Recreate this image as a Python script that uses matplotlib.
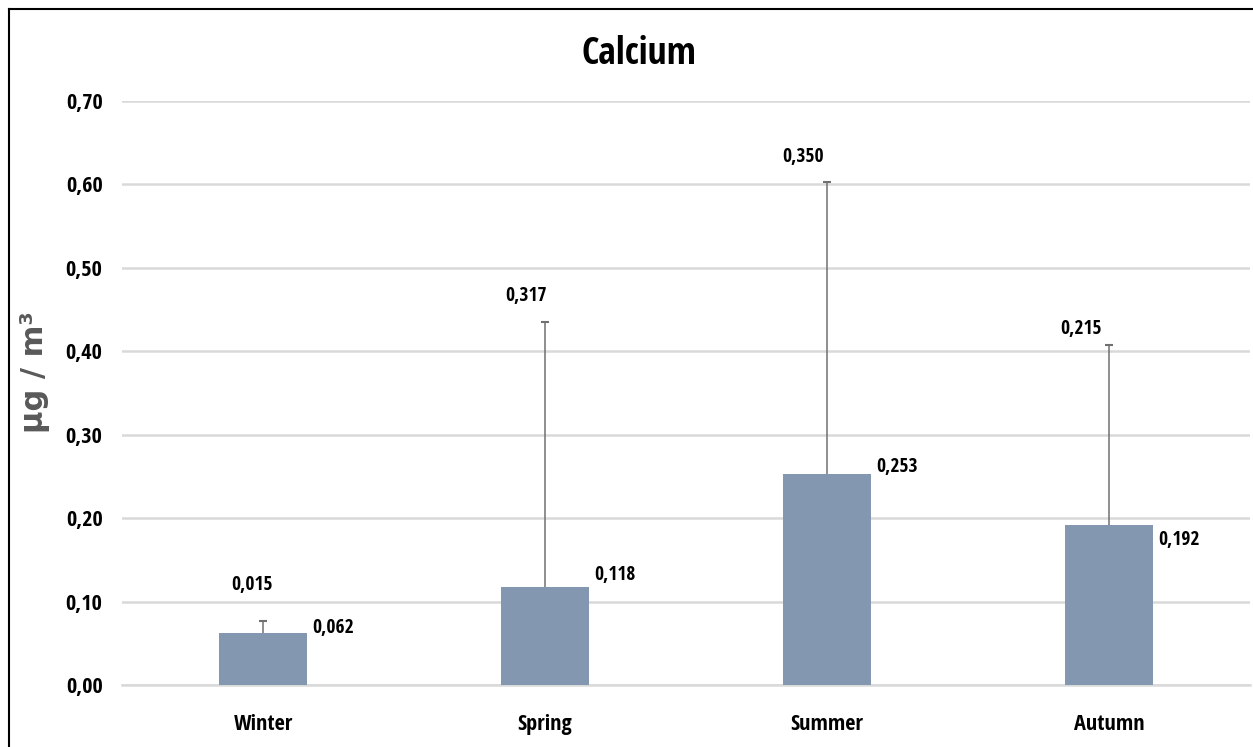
import matplotlib
matplotlib.use("Agg")
import matplotlib.pyplot as plt
from matplotlib.lines import Line2D
from matplotlib import font_manager

seasons = ["Winter", "Spring", "Summer", "Autumn"]
mean_values = [0.062, 0.118, 0.253, 0.192]
std_values = [0.015, 0.317, 0.350, 0.215]
y_ticks = [0.0, 0.1, 0.2, 0.3, 0.4, 0.5, 0.6, 0.7]

installed = {f.name for f in font_manager.fontManager.ttflist}
preferred = [n for n in ["Open Sans Condensed", "PT Sans Narrow", "Carlito"] if n in installed]
plt.rcParams["font.family"] = preferred[:1] + ["DejaVu Sans"]
plt.rcParams["font.weight"] = "bold"

def fmt(v, digits):
    return f"{v:.{digits}f}".replace(".", ",")

W, H = 1253, 747
fig = plt.figure(figsize=(W / 100, H / 100), dpi=100)
ax = fig.add_axes([122 / W, 1 - 685 / H, (1250 - 122) / W, (685 - 101) / H])

x = list(range(len(seasons)))
ax.bar(x, mean_values, width=0.31, color="#8497b0", zorder=3)
tops = [m + s for m, s in zip(mean_values, std_values)]
ax.errorbar(x, mean_values, yerr=[[0] * len(x), std_values], fmt="none",
            ecolor="#707070", elinewidth=1.1, capsize=0, zorder=2)
ax.plot(x, tops, linestyle="none", marker="_", markersize=6, markeredgewidth=1.5,
        color="#707070", zorder=2)

ax.set_xlim(-0.5, 3.5)
ax.set_ylim(0, 0.7)
ax.set_yticks(y_ticks)
ax.set_yticklabels([fmt(t, 2) for t in y_ticks], fontsize=16, fontweight="bold")
ax.set_xticks(x)
ax.set_xticklabels(seasons, fontsize=16, fontweight="bold")
ax.tick_params(axis="both", length=0)
ax.tick_params(axis="y", pad=14)
ax.tick_params(axis="x", pad=21)
ax.grid(axis="y", color="#d9d9d9", linewidth=1.8, zorder=0)
for side in ["top", "right", "left"]:
    ax.spines[side].set_visible(False)
ax.spines["bottom"].set_color("#d9d9d9")
ax.spines["bottom"].set_linewidth(1.8)

# standard deviation labels above the error bars, mean labels beside the bars
std_dx = [-8, -14, -17, -20]
std_dy = [26, 19, 18, 12]
mean_dy = [4, 8, 5, -11]
for i, (m, s) in enumerate(zip(mean_values, std_values)):
    ax.annotate(fmt(s, 3), (i, m + s), xytext=(std_dx[i], std_dy[i]), textcoords="offset points",
                ha="center", va="center", fontsize=14, fontweight="bold")
    ax.annotate(fmt(m, 3), (i + 0.155, m), xytext=(4, mean_dy[i]), textcoords="offset points",
                ha="left", va="center", fontsize=14, fontweight="bold")

fig.text(639 / W, 1 - 54 / H, "Calcium", ha="center", va="center", fontsize=27, fontweight="bold")
fig.text(35 / W, 1 - 372 / H, "μg / m³", ha="center", va="center", rotation=90,
         fontsize=22, fontweight="bold", color="#595959", family="DejaVu Sans")

# chart border
fig.add_artist(Line2D([8.5 / W, 8.5 / W], [0, 1 - 8.5 / H], color="black", linewidth=1.5,
                      transform=fig.transFigure))
fig.add_artist(Line2D([8.5 / W, 1], [1 - 8.5 / H, 1 - 8.5 / H], color="black", linewidth=1.5,
                      transform=fig.transFigure))

fig.savefig("out.png", dpi=100, facecolor="white")
